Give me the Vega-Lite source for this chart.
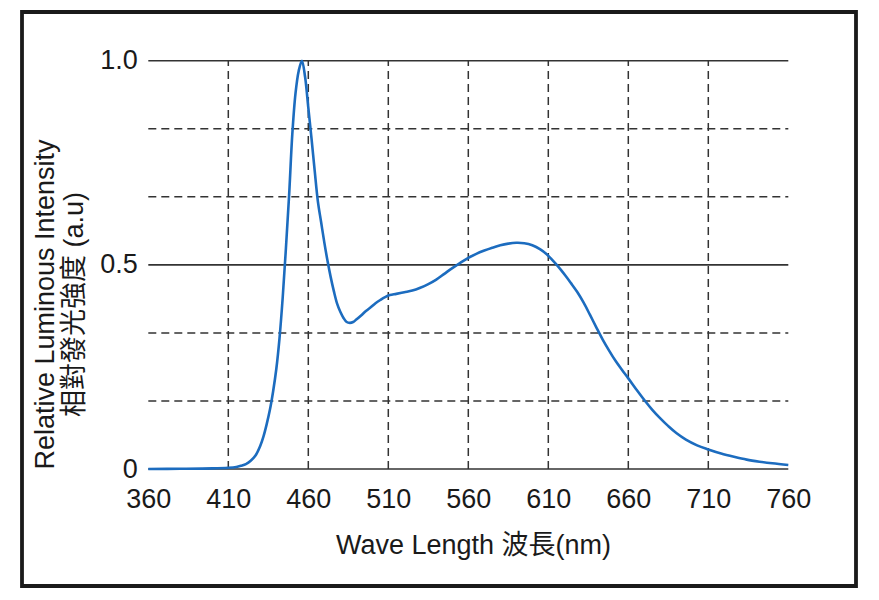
{
  "$schema": "https://vega.github.io/schema/vega-lite/v6.json",
  "width": 834,
  "height": 574,
  "autosize": {"type": "none"},
  "padding": {"left": 22, "top": 12, "right": 23, "bottom": 14},
  "background": "white",
  "config": {
    "view": {"stroke": "#1a1a1a", "strokeWidth": 3.8},
    "font": "Liberation Sans, Noto Sans CJK TC, sans-serif"
  },
  "datasets": {
    "spectrum": [
      {"nm": 360, "rel": 0}, {"nm": 380, "rel": 0.0005}, {"nm": 400, "rel": 0.0015}, {"nm": 410, "rel": 0.003},
      {"nm": 415, "rel": 0.005}, {"nm": 418, "rel": 0.008}, {"nm": 421, "rel": 0.012}, {"nm": 424, "rel": 0.02},
      {"nm": 427, "rel": 0.033}, {"nm": 430, "rel": 0.057}, {"nm": 432, "rel": 0.08}, {"nm": 434, "rel": 0.11},
      {"nm": 436, "rel": 0.145}, {"nm": 438, "rel": 0.19}, {"nm": 440, "rel": 0.245}, {"nm": 442, "rel": 0.32},
      {"nm": 444, "rel": 0.42}, {"nm": 446, "rel": 0.54}, {"nm": 448, "rel": 0.67}, {"nm": 450, "rel": 0.82},
      {"nm": 452, "rel": 0.92}, {"nm": 454, "rel": 0.975}, {"nm": 456, "rel": 1.0}, {"nm": 458, "rel": 0.96},
      {"nm": 460, "rel": 0.885}, {"nm": 462, "rel": 0.81}, {"nm": 464, "rel": 0.73}, {"nm": 466, "rel": 0.655},
      {"nm": 468, "rel": 0.605}, {"nm": 470, "rel": 0.555}, {"nm": 472, "rel": 0.51}, {"nm": 474, "rel": 0.47},
      {"nm": 476, "rel": 0.435}, {"nm": 478, "rel": 0.405}, {"nm": 480, "rel": 0.385}, {"nm": 482, "rel": 0.37},
      {"nm": 484, "rel": 0.36}, {"nm": 486, "rel": 0.358}, {"nm": 488, "rel": 0.36}, {"nm": 490, "rel": 0.366},
      {"nm": 493, "rel": 0.376}, {"nm": 496, "rel": 0.387}, {"nm": 499, "rel": 0.396}, {"nm": 502, "rel": 0.406},
      {"nm": 505, "rel": 0.414}, {"nm": 508, "rel": 0.421}, {"nm": 511, "rel": 0.426}, {"nm": 515, "rel": 0.429},
      {"nm": 520, "rel": 0.433}, {"nm": 525, "rel": 0.437}, {"nm": 530, "rel": 0.444}, {"nm": 535, "rel": 0.453},
      {"nm": 540, "rel": 0.464}, {"nm": 545, "rel": 0.478}, {"nm": 550, "rel": 0.492}, {"nm": 555, "rel": 0.505},
      {"nm": 560, "rel": 0.517}, {"nm": 565, "rel": 0.527}, {"nm": 570, "rel": 0.535}, {"nm": 575, "rel": 0.542},
      {"nm": 580, "rel": 0.548}, {"nm": 585, "rel": 0.552}, {"nm": 590, "rel": 0.554}, {"nm": 595, "rel": 0.553},
      {"nm": 600, "rel": 0.548}, {"nm": 605, "rel": 0.538}, {"nm": 609, "rel": 0.526}, {"nm": 612, "rel": 0.514},
      {"nm": 615, "rel": 0.501}, {"nm": 618, "rel": 0.487}, {"nm": 621, "rel": 0.472}, {"nm": 624, "rel": 0.456},
      {"nm": 628, "rel": 0.434}, {"nm": 632, "rel": 0.408}, {"nm": 636, "rel": 0.378}, {"nm": 640, "rel": 0.347},
      {"nm": 644, "rel": 0.317}, {"nm": 648, "rel": 0.29}, {"nm": 652, "rel": 0.265}, {"nm": 656, "rel": 0.243},
      {"nm": 660, "rel": 0.222}, {"nm": 665, "rel": 0.195}, {"nm": 670, "rel": 0.169}, {"nm": 675, "rel": 0.145},
      {"nm": 680, "rel": 0.124}, {"nm": 685, "rel": 0.105}, {"nm": 690, "rel": 0.088}, {"nm": 696, "rel": 0.072},
      {"nm": 703, "rel": 0.058}, {"nm": 710, "rel": 0.048}, {"nm": 718, "rel": 0.038}, {"nm": 726, "rel": 0.03},
      {"nm": 734, "rel": 0.023}, {"nm": 742, "rel": 0.018}, {"nm": 750, "rel": 0.014}, {"nm": 760, "rel": 0.01}
    ],
    "vgrid": [{"nm": 410}, {"nm": 460}, {"nm": 510}, {"nm": 560}, {"nm": 610}, {"nm": 660}, {"nm": 710}],
    "hgrid": [{"rel": 0.16667}, {"rel": 0.33333}, {"rel": 0.66667}, {"rel": 0.83333}],
    "hsolid": [{"rel": 0}, {"rel": 0.5}, {"rel": 1}]
  },
  "layer": [
    {
      "data": {"name": "vgrid"},
      "mark": {"type": "rule", "stroke": "#333333", "strokeWidth": 1.5, "strokeDash": [8, 5]},
      "encoding": {
        "x": {
          "field": "nm", "type": "quantitative",
          "scale": {"domain": [281.06, 802.31], "nice": false, "zero": false},
          "axis": {
            "title": "Wave Length 波長(nm)",
            "values": [360, 410, 460, 510, 560, 610, 660, 710, 760],
            "offset": -117,
            "domain": false, "ticks": false, "grid": false,
            "labelFontSize": 27, "labelColor": "#1a1a1a", "labelPadding": 17, "labelFlush": false,
            "titleFontSize": 27, "titleFontWeight": "normal", "titleColor": "#1a1a1a",
            "titlePadding": 20, "titleX": 451
          }
        },
        "y": {
          "datum": 0, "type": "quantitative",
          "scale": {"domain": [-0.2865, 1.1193], "nice": false, "zero": false},
          "axis": {
            "title": ["Relative Luminous Intensity", "相對發光強度 (a.u)"],
            "values": [0, 0.5, 1],
            "labelExpr": "datum.value == 0 ? '0' : format(datum.value, '.1f')",
            "offset": -126.3,
            "domain": false, "ticks": false, "grid": false,
            "labelFontSize": 27, "labelColor": "#1a1a1a", "labelPadding": 11, "labelFlush": false,
            "titleFontSize": 27, "titleFontWeight": "normal", "titleColor": "#1a1a1a",
            "titlePadding": 11, "titleLineHeight": 29, "titleY": 292
          }
        },
        "y2": {"datum": 1}
      }
    },
    {
      "data": {"name": "hgrid"},
      "mark": {"type": "rule", "stroke": "#333333", "strokeWidth": 1.5, "strokeDash": [8, 5]},
      "encoding": {
        "y": {"field": "rel", "type": "quantitative"},
        "x": {"datum": 360, "type": "quantitative"},
        "x2": {"datum": 760}
      }
    },
    {
      "data": {"name": "hsolid"},
      "mark": {"type": "rule", "stroke": "#333333", "strokeWidth": 1.6},
      "encoding": {
        "y": {"field": "rel", "type": "quantitative"},
        "x": {"datum": 360, "type": "quantitative"},
        "x2": {"datum": 760}
      }
    },
    {
      "mark": {"type": "rule", "stroke": "#333333", "strokeWidth": 1.6},
      "encoding": {
        "x": {"datum": 360, "type": "quantitative"},
        "y": {"datum": 0, "type": "quantitative"},
        "y2": {"datum": 1}
      }
    },
    {
      "data": {"name": "spectrum"},
      "mark": {"type": "line", "stroke": "#1c6cbf", "strokeWidth": 2.6, "interpolate": "catmull-rom"},
      "encoding": {
        "x": {"field": "nm", "type": "quantitative"},
        "y": {"field": "rel", "type": "quantitative"}
      }
    }
  ]
}
